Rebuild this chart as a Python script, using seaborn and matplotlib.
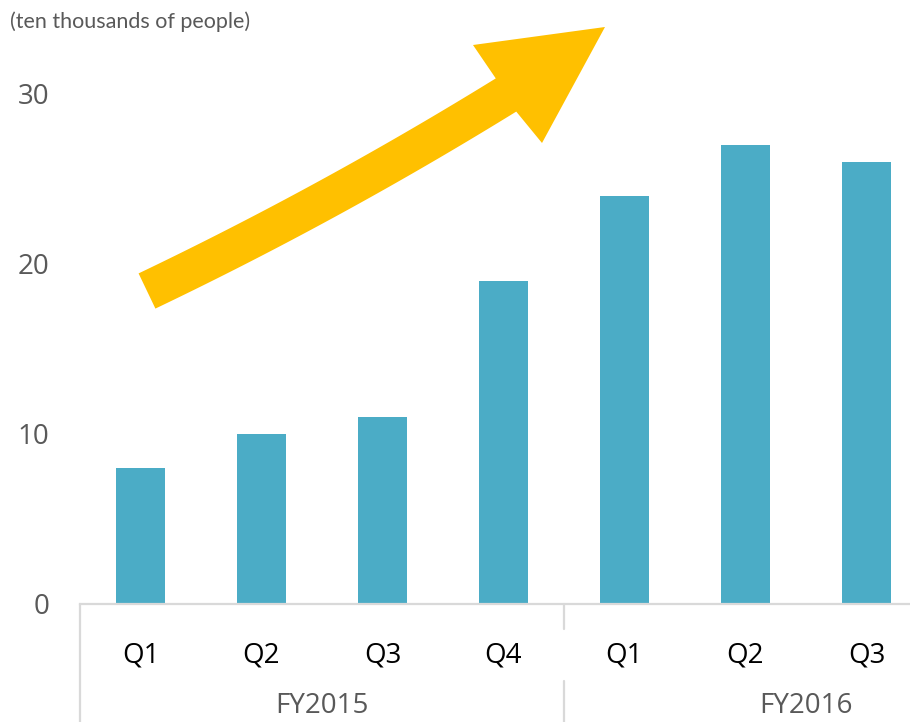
import matplotlib
matplotlib.use("Agg")
import matplotlib.pyplot as plt
import seaborn as sns
import pandas as pd
import numpy as np
from matplotlib.patches import Polygon

# ---- data ----
years = ["FY2015", "FY2015", "FY2015", "FY2015", "FY2016", "FY2016", "FY2016"]
quarters = ["Q1", "Q2", "Q3", "Q4", "Q1", "Q2", "Q3"]
values = [8, 10, 11, 19, 24, 27, 26]
yticks = [0, 10, 20, 30]
unit_label = "(ten thousands of people)"
quarters_per_year = 4

sns.set_theme(style="white")
plt.rcParams['font.family'] = ['Open Sans', 'DejaVu Sans']

W, H = 910, 722
fig = plt.figure(figsize=(W / 100, H / 100), dpi=100)

# axes placement in pixels
left_px, bottom_px, top_px = 80, 604, 94
cat_px = 121.0
ncat = len(values)
xmin, xmax = -0.5, ncat - 0.5
width_px = cat_px * (xmax - xmin)
ax = fig.add_axes([left_px / W, (H - bottom_px) / H, width_px / W, (bottom_px - top_px) / H])

keys = [f"{y} {q}" for y, q in zip(years, quarters)]
df = pd.DataFrame({"key": keys, "value": values})
sns.barplot(data=df, x="key", y="value", order=keys, color="#4BACC6",
            saturation=1, width=0.4, edgecolor="none", ax=ax)

ax.set_xlim(xmin, xmax)
ax.set_ylim(0, 30)
ax.set_yticks(yticks)
ax.set_yticklabels([str(t) for t in yticks], color="#595959", fontsize=20)
ax.tick_params(axis="y", length=0, pad=22)
ax.set_xticks(range(ncat))
ax.set_xticklabels(quarters, color="#000000", fontsize=20)
ax.tick_params(axis="x", length=0, pad=27)
ax.set_xlabel("")
ax.set_ylabel("")
for s in ["top", "right", "left"]:
    ax.spines[s].set_visible(False)
ax.spines["bottom"].set_color("#D9D9D9")
ax.spines["bottom"].set_linewidth(1.6)
ax.grid(False)

# group separators and year labels
trans = ax.get_xaxis_transform()
axh = bottom_px - top_px
def ay(py):
    return (bottom_px - py) / axh
sep_color = "#D9D9D9"
ax.plot([xmin, xmin], [0, ay(H)], transform=trans, color=sep_color, lw=1.6, clip_on=False)
groups = []
for i, y in enumerate(years):
    if not groups or groups[-1][0] != y:
        groups.append([y, i, i])
    else:
        groups[-1][2] = i
for gi, (y, i0, i1) in enumerate(groups):
    cx = i0 + (quarters_per_year - 1) / 2
    ax.text(cx, ay(706), y, transform=trans, ha="center", va="center",
            fontsize=20, color="#595959")
    if gi > 0:
        bx = i0 - 0.5
        ax.plot([bx, bx], [0, ay(629)], transform=trans, color=sep_color, lw=1.6, clip_on=False)
        ax.plot([bx, bx], [ay(681), ay(H)], transform=trans, color=sep_color, lw=1.6, clip_on=False)

# unit label
fig.text(10 / W, 1 - 22 / H, unit_label, ha="left", va="center", fontsize=15.5,
         color="#595959", family=["Lato", "DejaVu Sans"])

# decorative curved arrow (pixel coordinates)
P0 = np.array([147.0, 291.0])
P1 = np.array([331.0, 203.0])
P2 = np.array([506.0, 95.0])
t = np.linspace(0, 1, 60)[:, None]
curve = (1 - t) ** 2 * P0 + 2 * (1 - t) * t * P1 + t ** 2 * P2
d = 2 * (1 - t) * (P1 - P0) + 2 * t * (P2 - P1)
d = d / np.linalg.norm(d, axis=1, keepdims=True)
nrm = np.column_stack([d[:, 1], -d[:, 0]])
hw = 19.5
upper = curve + nrm * hw
lower = curve - nrm * hw
head = np.array([[473.0, 45.0], [605.0, 27.0], [542.0, 143.0]])
pts = np.vstack([upper, head, lower[::-1]])
pts_fig = np.column_stack([pts[:, 0] / W, 1 - pts[:, 1] / H])
fig.patches.append(Polygon(pts_fig, closed=True, transform=fig.transFigure,
                           facecolor="#FFC000", edgecolor="none", zorder=5))

fig.savefig("out.png", dpi=100)
